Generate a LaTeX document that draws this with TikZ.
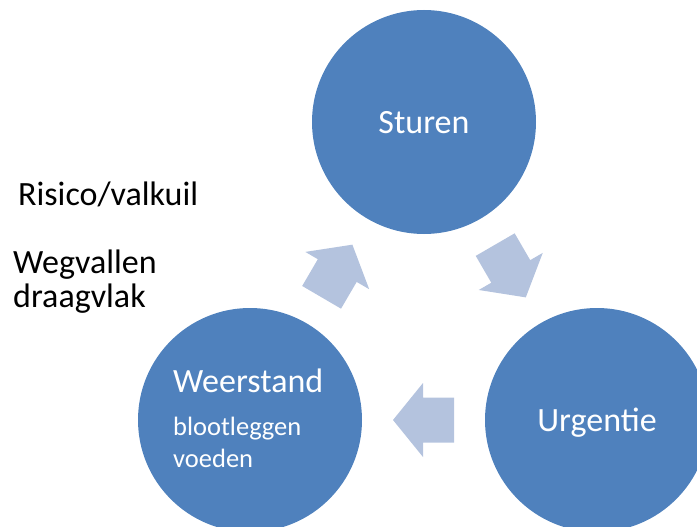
\documentclass[tikz,border=0pt]{standalone}
\usepackage{fontspec}
\setmainfont{Carlito}
\usetikzlibrary{calc}

\definecolor{cirkelblauw}{HTML}{4F81BD}
\definecolor{pijlblauw}{HTML}{B4C3DE}

% blokpijl rond een middelpunt, gedraaid over een hoek
\newcommand{\blokpijl}[2]{%
  \fill[pijlblauw,shift={(#1)},rotate=#2] (30.5,0) -- (0.5,-37) -- (0.5,-22.5)
    -- (-30.5,-22.5) -- (-30.5,22.5) -- (0.5,22.5) -- (0.5,37) -- cycle;}

\begin{document}
\begin{tikzpicture}[x=1pt,y=-1pt,
  stap/.style={circle,fill=cirkelblauw,minimum size=224pt,inner sep=0pt,
    text=white,text depth=0pt,font=\fontsize{34}{40}\selectfont},
  klein/.style={anchor=base west,text=white,inner sep=0pt,font=\fontsize{26.5}{32}\selectfont},
  tekst/.style={anchor=base west,inner sep=0pt,align=left,font=\fontsize{34}{34}\selectfont}]
\useasboundingbox (0,0) rectangle (697,527);
\clip (0,0) rectangle (697,527);

\node[stap] (stur) at (424,122) {Sturen};
\node[stap] (urg) at (597,420) {Urgentie};
\node[stap] (weer) at (250,420) {};

\node[klein,font=\fontsize{34}{40}\selectfont] (weernaam) at (173,392) {Weerstand};
\node[klein] (bloot) at (173,435) {blootleggen};
\node[klein] (voed) at (173,467) {voeden};

% pijlen tussen de stappen
\coordinate (p1) at ($(stur)!.5!(urg)$);
\coordinate (p2) at ($(urg)!.5!(weer)$);
\coordinate (p3) at ($(weer)!.5!(stur)$);
\blokpijl{p1}{-59.9}
\blokpijl{p2}{180}
\blokpijl{p3}{59.7}

\node[tekst] (risico) at (18,205) {Risico/valkuil};
\node[tekst] (wegval) at (13,307) {Wegvallen\\draagvlak};
\end{tikzpicture}
\end{document}
